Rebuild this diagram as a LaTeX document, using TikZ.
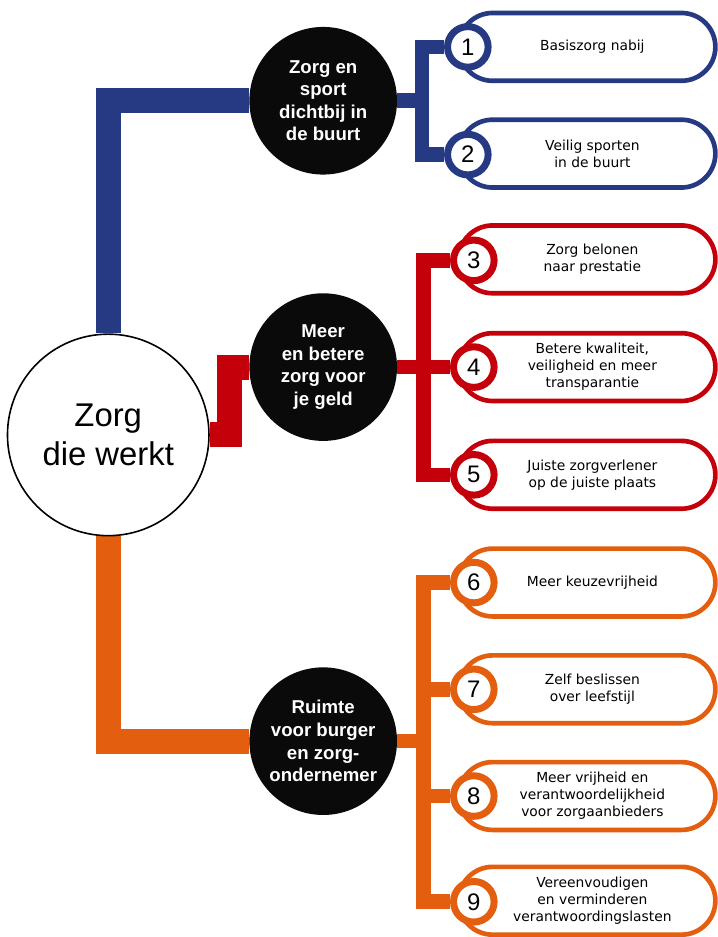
\documentclass[tikz,border=0pt]{standalone}
\usepackage{fontspec}
\setmainfont{Liberation Sans}
\newfontfamily\pillfont{DejaVu Sans}
\usetikzlibrary{backgrounds,calc}
\definecolor{zblue}{HTML}{263A84}
\definecolor{zred}{HTML}{C4000B}
\definecolor{zorange}{HTML}{E35E0E}

\begin{document}
\begin{tikzpicture}
    [x=0.75pt,y=-0.75pt,
hub/.style={circle,draw,line width=1.2pt,fill=white,minimum size=151.5pt,inner sep=0pt,align=center,font=\fontsize{24.7}{29}\selectfont},
theme/.style={circle,fill=black!96,text=white,minimum size=111pt,inner sep=0pt,align=center,font=\fontsize{14}{17}\selectfont\bfseries},
pill/.style={rectangle,rounded corners=25.5pt,draw=#1,line width=3.5pt,fill=white,minimum width=193pt,minimum height=51pt,align=center,font=\pillfont\fontsize{10.4}{12.75}\selectfont},
num/.style={circle,draw=#1,line width=5.25pt,fill=white,minimum size=30.5pt,inner sep=0pt,font=\fontsize{18}{18}\selectfont},
trunk/.style={draw=#1,line width=18.75pt},
branch/.style={draw=#1,line width=11pt}
]
\node[hub] (werkt) at (108.5,436) {Zorg\\die werkt};

\node[theme] (sport) at (324,101) {Zorg en\\sport\\dichtbij in\\de buurt};
\node[theme] (geld) at (324,368) {Meer\\en betere\\zorg voor\\je geld};
\node[theme] (burger) at (324,743) {Ruimte\\voor burger\\en zorg-\\ondernemer};

\node[pill=zblue] (p1) at (588.5,47) {\hspace{8pt}Basiszorg nabij};
\node[pill=zblue] (p2) at (588.5,154) {\hspace{8pt}Veilig sporten\\\hspace{8pt}in de buurt};
\node[pill=zred] (p3) at (588.5,260) {\hspace{8pt}Zorg belonen\\\hspace{8pt}naar prestatie};
\node[pill=zred] (p4) at (588.5,368) {\hspace{8pt}Betere kwaliteit,\\\hspace{8pt}veiligheid en meer\\\hspace{8pt}transparantie};
\node[pill=zred] (p5) at (588.5,476) {\hspace{8pt}Juiste zorgverlener\\\hspace{8pt}op de juiste plaats};
\node[pill=zorange] (p6) at (588.5,584) {\hspace{8pt}Meer keuzevrijheid};
\node[pill=zorange] (p7) at (588.5,691) {\hspace{8pt}Zelf beslissen\\\hspace{8pt}over leefstijl};
\node[pill=zorange] (p8) at (588.5,798) {\hspace{8pt}Meer vrijheid en\\\hspace{8pt}verantwoordelijkheid\\\hspace{8pt}voor zorgaanbieders};
\node[pill=zorange] (p9) at (588.5,903) {\hspace{8pt}Vereenvoudigen\\\hspace{8pt}en verminderen\\\hspace{8pt}verantwoordingslasten};

\node[num=zblue] (n1) at (469,47) {1};
\node[num=zblue] (n2) at (469,155) {2};
\node[num=zred] (n3) at (475,261) {3};
\node[num=zred] (n4) at (475,368) {4};
\node[num=zred] (n5) at (475,476) {5};
\node[num=zorange] (n6) at (475,584) {6};
\node[num=zorange] (n7) at (475,691) {7};
\node[num=zorange] (n8) at (475,798) {8};
\node[num=zorange] (n9) at (475,904) {9};

\coordinate (bj) at (423,101);
\coordinate (rj) at (424.5,368);
\coordinate (oj) at (424.5,743);

\begin{scope}[on background layer]
\fill[white] (0,0) rectangle (719,937);
\draw[trunk=zblue] (werkt) |- (sport);
\draw[trunk=zred] (werkt) -| ($(werkt.east)!.5!(geld.west)$) |- (geld);
\draw[trunk=zorange] (werkt) |- (burger);
\draw[branch=zblue] (sport) -- (bj);
\draw[branch=zblue] (n1) -| (bj) |- (n2);
\draw[branch=zred] (geld) -- (n4);
\draw[branch=zred] (n3) -| (rj) |- (n5);
\draw[branch=zorange] (burger) -- (oj);
\draw[branch=zorange] (n6) -| (oj) |- (n9);
\draw[branch=zorange] (n7) -| (oj);
\draw[branch=zorange] (n8) -| (oj);
\end{scope}
\useasboundingbox (0,0) rectangle (719,937);
\end{tikzpicture}
\end{document}
